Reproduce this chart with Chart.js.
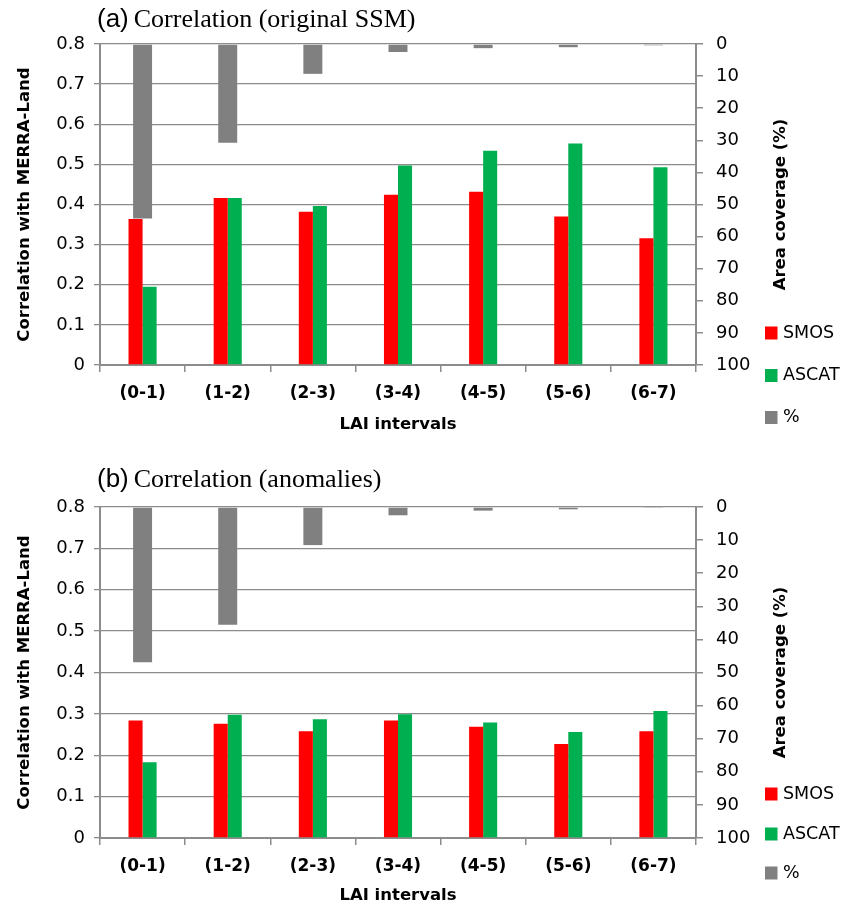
<!DOCTYPE html>
<html><head><meta charset="utf-8">
<script src="https://cdn.jsdelivr.net/npm/chart.js@4.4.1/dist/chart.umd.min.js"></script>
<style>
html,body{margin:0;padding:0;background:#fff;width:841px;height:909px;overflow:hidden}
.p{position:absolute;left:0;width:841px}
#wa{top:0;height:455px}
#wb{top:455px;height:454px}
</style></head><body>
<div class="p" id="wa"><canvas id="ca"></canvas></div>
<div class="p" id="wb"><canvas id="cb"></canvas></div>
<script>
// ---- data ----
const categories = ['(0-1)', '(1-2)', '(2-3)', '(3-4)', '(4-5)', '(5-6)', '(6-7)'];
const seriesLabels = ['SMOS', 'ASCAT', '%'];
// panel (a) Correlation (original SSM)
const smosA  = [0.364, 0.416, 0.382, 0.424, 0.432, 0.370, 0.316];
const ascatA = [0.195, 0.416, 0.396, 0.497, 0.534, 0.552, 0.493];
const coverA = [54.4, 30.8, 9.3, 2.5, 1.3, 1.0, 0.4];
// panel (b) Correlation (anomalies)
const smosB  = [0.284, 0.276, 0.258, 0.284, 0.269, 0.227, 0.258];
const ascatB = [0.183, 0.298, 0.287, 0.299, 0.279, 0.256, 0.307];
const coverB = [46.9, 35.6, 11.5, 2.5, 1.1, 0.7, 0.3];
// tick labels
const leftTicks  = [0, 0.1, 0.2, 0.3, 0.4, 0.5, 0.6, 0.7, 0.8];
const rightTicks = [0, 10, 20, 30, 40, 50, 60, 70, 80, 90, 100];
const leftTitle  = 'Correlation with MERRA-Land';
const rightTitle = 'Area coverage (%)';
const xTitle     = 'LAI intervals';

// ---- styles ----
const colors = ['#FF0000', '#00B050', '#808080'];
const axisGray = '#8c8c8c';
const tickFont = {family: '"DejaVu Sans"', size: 18};

const decor = {
  id: 'decor',
  afterDraw(chart, args, o) {
    const ctx = chart.ctx, a = chart.chartArea;
    ctx.save();
    ctx.fillStyle = '#000';
    ctx.textBaseline = 'middle';
    ctx.textAlign = 'left';
    ctx.font = '26px "Liberation Sans"';
    ctx.fillText(o.tag, a.left - 3, o.titleY);
    const w = ctx.measureText(o.tag).width;
    ctx.font = '26px "Liberation Serif"';
    ctx.fillText(o.title, a.left - 3 + w + 5, o.titleY);
    // axis titles
    ctx.font = 'bold 16.5px "DejaVu Sans"';
    ctx.textAlign = 'center';
    const cy = (a.top + a.bottom) / 2;
    ctx.save(); ctx.translate(25, cy); ctx.rotate(-Math.PI / 2); ctx.fillText(leftTitle, 0, 0); ctx.restore();
    ctx.save(); ctx.translate(781, cy); ctx.rotate(-Math.PI / 2); ctx.fillText(rightTitle, 0, 0); ctx.restore();
    ctx.fillText(xTitle, (a.left + a.right) / 2, a.bottom + o.xTitleOff);
    // legend
    ctx.textAlign = 'left';
    ctx.font = '17.5px "DejaVu Sans"';
    chart.data.datasets.forEach((ds, i) => {
      const y = a.bottom + o.legendOff[i];
      ctx.fillStyle = ds.backgroundColor;
      ctx.fillRect(765, y - 6.5, 12.5, 13);
      ctx.fillStyle = '#000';
      ctx.fillText(ds.label, 783, y);
    });
    ctx.restore();
  }
};

function makeChart(id, smos, ascat, cover, cfg) {
  return new Chart(document.getElementById(id), {
    type: 'bar',
    data: {
      labels: categories,
      datasets: [
        {label: seriesLabels[0], data: smos, backgroundColor: colors[0], yAxisID: 'y',
         categoryPercentage: 0.33, barPercentage: 1.0, order: 1},
        {label: seriesLabels[1], data: ascat, backgroundColor: colors[1], yAxisID: 'y',
         categoryPercentage: 0.33, barPercentage: 1.0, order: 1},
        {label: seriesLabels[2], data: cover, backgroundColor: colors[2], yAxisID: 'y2',
         grouped: false, categoryPercentage: 1.0, barPercentage: 0.223, order: 2}
      ]
    },
    plugins: [decor],
    options: {
      responsive: true,
      maintainAspectRatio: false,
      animation: false,
      devicePixelRatio: 1,
      layout: {padding: {top: cfg.top, left: 0, right: 0, bottom: 0}},
      plugins: {
        legend: {display: false},
        tooltip: {enabled: false},
        decor: cfg.decor
      },
      scales: {
        x: {
          offset: true,
          grid: {offset: true, drawOnChartArea: false, drawTicks: true, tickLength: 7, color: axisGray, lineWidth: 1.5},
          border: {display: true, color: axisGray, width: 2},
          ticks: {color: '#000', font: {family: '"DejaVu Sans"', size: 17, weight: 'bold'}, padding: 11, maxRotation: 0},
          afterFit(s) { s.height = cfg.xh; }
        },
        y: {
          position: 'left', min: 0, max: 0.8,
          afterBuildTicks(s) { s.ticks = leftTicks.map(v => ({value: v})); },
          grid: {color: axisGray, lineWidth: 1.3, tickLength: 6},
          border: {display: true, color: axisGray, width: 2},
          ticks: {color: '#000', font: tickFont, padding: 9},
          afterFit(s) { s.width = 100; }
        },
        y2: {
          position: 'right', min: 0, max: 100, reverse: true,
          afterBuildTicks(s) { s.ticks = rightTicks.map(v => ({value: v})); },
          grid: {drawOnChartArea: false, color: axisGray, lineWidth: 1.5, tickLength: 7},
          border: {display: true, color: axisGray, width: 2},
          ticks: {color: '#000', font: tickFont, padding: 13},
          afterFit(s) { s.width = 145; }
        }
      }
    }
  });
}

makeChart('ca', smosA, ascatA, coverA, {
  top: 44, xh: 90,
  decor: {tag: '(a)', title: 'Correlation (original SSM)', titleY: 20, xTitleOff: 60, legendOff: [-32, 10.5, 52.5]}
});
makeChart('cb', smosB, ascatB, coverB, {
  top: 52, xh: 71,
  decor: {tag: '(b)', title: 'Correlation (anomalies)', titleY: 25, xTitleOff: 58, legendOff: [-44, -4, 35]}
});
</script>
</body></html>
